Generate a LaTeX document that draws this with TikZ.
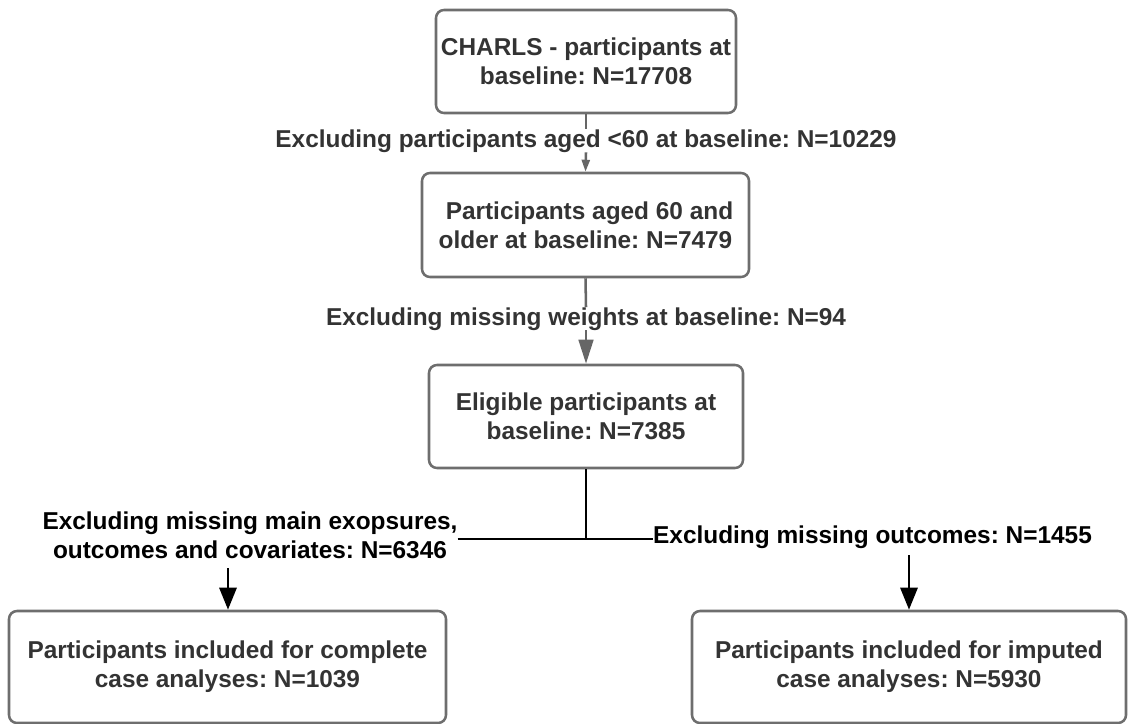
\documentclass[tikz,border=0pt]{standalone}
\usepackage{fontspec}
\setmainfont{Liberation Sans}
\usetikzlibrary{arrows.meta}
\definecolor{boxline}{HTML}{6E6E6E}
\definecolor{boxtext}{HTML}{333333}
\definecolor{linkgray}{HTML}{666666}
\frenchspacing
\begin{document}
\begin{tikzpicture}[x=0.75pt,y=-0.75pt,
  every node/.style={font=\bfseries\fontsize{18.3pt}{21.75pt}\selectfont},
  stagebox/.style={draw=boxline, line width=1.9pt, rounded corners=6pt,
    inner sep=0pt, align=center, text=boxtext},
  dropnote/.style={inner sep=0pt, align=center, text=boxtext},
  branchnote/.style={inner sep=0pt, align=center, text=black},
  graylink/.style={draw=linkgray, line width=1.9pt},
  blacklink/.style={draw=black, line width=2.2pt},
  smalltip/.style={-{Triangle[length=9pt,width=6pt]}},
  midtip/.style={-{Triangle[length=18pt,width=11pt]}},
  bigtip/.style={-{Triangle[length=16.5pt,width=12.75pt]}}
]
\useasboundingbox (0,0) rectangle (1128,724);

% stages of the sample selection
\node[stagebox, minimum width=225pt, minimum height=77.25pt] (b1) at (586,61.5)
  {CHARLS - participants at\\baseline: N=17708};
\node[stagebox, minimum width=245.25pt, minimum height=78pt] (b2) at (585.5,225)
  {\hspace*{6pt}Participants aged 60 and\\older at baseline: N=7479};
\node[stagebox, minimum width=235.5pt, minimum height=77.25pt] (b3) at (586,416.5)
  {Eligible participants at\\baseline: N=7385};
\node[stagebox, minimum width=327.75pt, minimum height=84pt] (b4) at (227.5,667)
  {Participants included for complete\\case analyses: N=1039};
\node[stagebox, minimum width=325.5pt, minimum height=84pt] (b5) at (909,667)
  {Participants included for imputed\\case analyses: N=5930};

% exclusion notes
\node[dropnote, anchor=base] (e1) at (586,147)
  {Excluding participants aged <60 at baseline: N=10229};
\node[dropnote, anchor=base] (e2) at (586,325)
  {Excluding missing weights at baseline: N=94};
\node[branchnote] (e3) at (250,535)
  {Excluding missing main exopsures,\\outcomes and covariates: N=6346};
\node[branchnote, anchor=base] (e4) at (872.5,543)
  {Excluding missing outcomes: N=1455};

% connectors
\draw[graylink] (b1.south) -- (e1.north);
\draw[graylink, smalltip] (e1.south) -- (b2.north);
\draw[graylink] (b2.south) -- (e2.north);
\draw[graylink, midtip] (e2.south) -- (b3.north);

\coordinate (split) at (586,539);
\coordinate (leftstart) at (228,568);
\coordinate (rightstart) at (909,555);
\draw[blacklink] (b3.south) -- (split);
\draw[blacklink] (split -| e3.east) -- (split -| e4.west);
\draw[blacklink, bigtip] (leftstart) -- (leftstart |- b4.north);
\draw[blacklink, bigtip] (rightstart) -- (rightstart |- b5.north);
\end{tikzpicture}
\end{document}
